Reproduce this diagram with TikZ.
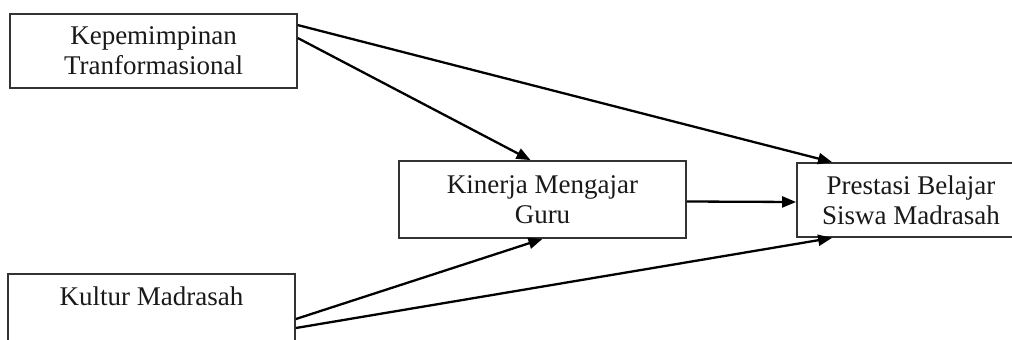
\documentclass[tikz,border=0pt]{standalone}
\usepackage{fontspec}
\setmainfont{Liberation Serif}
\usetikzlibrary{arrows.meta}
\begin{document}
\begin{tikzpicture}[x=1pt,y=-1pt,
  box/.style={draw=black!80,line width=1.8pt,rectangle,inner sep=0pt,
    minimum width=287pt,minimum height=74pt,align=center,
    font=\fontsize{27}{30}\selectfont,text=black!90},
  conn/.style={line width=2.3pt,-{Triangle[length=14pt,width=11pt]}}]
\useasboundingbox (0,0) rectangle (1012,340);
\clip (0,0) rectangle (1012,340);
\fill[white] (0,0) rectangle (1012,340);
\node[box] (k) at (153.5,51) {Kepemimpinan\\Tranformasional};
\node[box,minimum height=77pt] (g) at (542.5,199.5) {Kinerja Mengajar\\Guru};
\node[box,minimum width=228pt] (p) at (911,200) {Prestasi Belajar\\Siswa Madrasah};
\node[box] (m) at (151.5,311) {Kultur Madrasah\\\mbox{}};
\draw[conn] ([yshift=-12pt]k.north east) -- ([xshift=36pt]p.north west);
\draw[conn] ([yshift=-25pt]k.north east) -- ([xshift=-12pt]g.north);
\draw[conn] ([yshift=-2pt]g.east) -- ([yshift=-2pt]p.west);
\draw[conn] ([yshift=-8pt]m.east) -- (g.south);
\draw[conn] ([yshift=-17pt]m.east) -- ([xshift=36pt]p.south west);
\end{tikzpicture}
\end{document}
